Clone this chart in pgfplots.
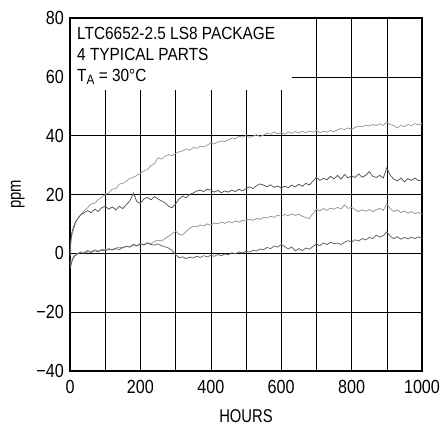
\documentclass[border=0pt]{standalone}
\usepackage{fontspec}
\setmainfont{Liberation Sans}[FakeStretch=0.875]
\newfontfamily\tickfont{Liberation Sans}[FakeStretch=0.85]
\newfontfamily\labelfont{Liberation Sans}[FakeStretch=0.8]
\usepackage{pgfplots}
\pgfplotsset{compat=1.18}
\pgfplotstableread{
t v
0 -1
2 3
5 6
10 8
15 10
20 11.5
30 13
40 14.5
50 15.5
60 16.8
70 17
80 18.3
90 19
100 20
110 20.5
120 21.8
130 22
140 23.5
150 23.8
160 24.5
170 25.5
180 25.8
190 26.5
200 27.2
210 28
220 28.5
230 29.8
240 30.5
250 32.5
260 32
270 33
280 33.5
290 33.2
300 34
310 34.5
320 34.8
330 35.5
340 35
350 36
360 35.7
370 36.4
380 36.2
390 36.8
400 37.5
410 37.2
420 37.8
430 38.2
440 38
450 38.6
460 39.2
470 39
480 39.8
490 39.5
500 40
510 39.4
520 39.8
530 40.3
540 39.7
550 40.2
560 40.8
570 40.5
580 41.2
590 40.7
600 41
610 40.5
620 41.3
630 40.8
640 41.4
650 40.9
660 41.5
670 41
680 41.6
690 41.2
700 41.8
710 41
720 41.5
730 41.2
740 41.8
750 41.3
760 42
770 42.4
780 42.1
790 42.6
800 42.2
810 42.8
820 43.2
830 43
840 43.6
850 43.3
860 43.8
870 43.4
880 44
890 43.5
900 44.6
910 43.8
920 43.4
930 42.6
940 43.5
950 43.1
960 43.8
970 43.4
980 44.1
990 43.7
1000 44.2
}\partA
\pgfplotstableread{
t v
0 0
2 4
5 7
10 9
15 10.5
20 11.5
30 13
40 13.8
50 14.5
60 13.8
70 15
80 14.2
90 15.5
100 16
110 15
120 15.8
130 14.8
140 16
150 15.2
160 16.5
170 17.8
180 20.5
190 17.5
200 17
210 18.5
220 19
230 18.2
240 19.3
250 18.5
260 17.8
270 17.2
280 16
290 15.5
300 16.8
310 18.5
320 19.5
330 18.8
340 20
350 20.5
360 21.2
370 21.5
380 21
390 21.8
400 21.5
410 20.8
420 21.4
430 20.6
440 21.2
450 20.8
460 21.5
470 21
480 21.8
490 21.2
500 22
510 22.6
520 22
530 23
540 23.6
550 23.2
560 22.6
570 23.3
580 22.4
590 22.9
600 22.2
610 22.8
620 22.3
630 23.2
640 22.6
650 23.5
660 22.8
670 23.8
680 23.2
690 24.5
700 25.8
710 24.8
720 25.5
730 25
740 26.2
750 25.3
760 26.5
770 25.2
780 26.8
790 25.6
800 26.3
810 25.8
820 27
830 25.9
840 26.5
850 27.8
860 26.2
870 25.8
880 26.5
890 25.6
900 29
910 26.5
920 25.2
930 24.6
940 25.6
950 24.3
960 25.4
970 24.8
980 25.6
990 24.7
1000 25
}\partB
\pgfplotstableread{
t v
0 -3
2 -4
5 -2.5
10 -1
15 -0.5
20 0
30 0.5
40 0.3
50 1
60 0.6
70 1.2
80 0.8
90 1.4
100 1.2
110 1.6
120 1.3
130 1.8
140 2.1
150 1.8
160 2.4
170 2.2
180 2.8
190 2.5
200 3.2
210 3
220 3.6
230 3.3
240 4
250 4.5
260 4.2
270 5
280 5.8
290 6.6
300 7.5
310 6.5
320 6.2
330 7.5
340 8.5
350 9.2
360 9
370 9.6
380 9.3
390 10
400 9.6
410 10.3
420 10
430 10.6
440 10.2
450 10.8
460 10.4
470 11
480 10.6
490 11.2
500 11
510 11.6
520 11.2
530 11.9
540 11.5
550 12.2
560 12
570 12.6
580 12.2
590 13
600 12.6
610 13.2
620 12.8
630 13.4
640 12.9
650 13.3
660 12.6
670 12.2
680 11.8
690 13.5
700 15
710 14.4
720 15.2
730 14.6
740 15.4
750 15
760 15.6
770 15.1
780 16.4
790 15.3
800 15.6
810 14.8
820 14.2
830 14.8
840 14.3
850 14.9
860 14.2
870 14.8
880 15.3
890 14.6
900 16.8
910 15.2
920 14.2
930 14.8
940 13.8
950 14.4
960 13.6
970 14.2
980 13.5
990 13.9
1000 13.4
}\partC
\pgfplotstableread{
t v
0 -2
2 -4.5
5 -3
10 -1.5
15 -0.8
20 -0.3
30 0.2
40 0
50 0.6
60 0.3
70 0.9
80 0.5
90 1.1
100 0.8
110 1.4
120 1.1
130 1.6
140 1.3
150 2
160 2.4
170 2.1
180 3
190 2.6
200 3.3
210 2.8
220 3.5
230 3
240 2.8
250 3.2
260 2.6
270 2.2
280 1.8
290 1
300 -0.5
310 -1.5
320 -1.2
330 -1.8
340 -1.3
350 -1.6
360 -1
370 -1.4
380 -0.8
390 -1.2
400 -0.7
410 -1
420 -0.4
430 -0.8
440 -0.2
450 -0.5
460 0.2
470 -0.2
480 0.5
490 0.1
500 0.7
510 0.4
520 1
530 0.8
540 1.5
550 1.2
560 2
570 1.6
580 2.5
590 2.1
600 3
610 2.3
620 1.5
630 2.2
640 0.8
650 1.6
660 0.9
670 1.8
680 1.4
690 2.3
700 3.2
710 2.6
720 3.5
730 3
740 3.8
750 3.2
760 3.5
770 3
780 3.8
790 4.3
800 3.9
810 4.6
820 4.2
830 5
840 4.6
850 5.4
860 5
870 6.2
880 5.5
890 6
900 7.3
910 5.8
920 5
930 5.6
940 4.8
950 5.4
960 4.9
970 5.5
980 5
990 5.6
1000 5.2
}\partD
\begin{document}
\begin{tikzpicture}
\useasboundingbox (-70pt,-64pt) rectangle (372pt,371pt);
\begin{axis}[
  scale only axis,
  width=352pt, height=353pt,
  xmin=0, xmax=1000, ymin=-40, ymax=80,
  font=\fontsize{17.6}{21}\selectfont,
  tick label style={font=\tickfont\fontsize{19}{21}\selectfont},
  label style={font=\labelfont\fontsize{18.5}{21}\selectfont},
  xtick={0,200,400,600,800,1000},
  xticklabels={0,200,400,600,800,1000},
  minor xtick={100,300,500,700,900},
  ytick={-40,-20,0,20,40,60,80},
  yticklabels={−40,−20,0,20,40,60,80},
  major tick length=0pt, minor tick length=0pt,
  xmajorgrids, xminorgrids, ymajorgrids,
  major grid style={black, line width=0.6pt},
  minor grid style={black, line width=0.6pt},
  axis line style={black, line width=1.3pt},
  x tick label style={yshift=-5.4pt},
  y tick label style={xshift=-2.7pt},
  xlabel={HOURS},
  xlabel style={at={(axis description cs:0.5,-0.128)}, anchor=center},
  ylabel={ppm},
  ylabel style={at={(axis description cs:-0.148,0.5)}, anchor=center},
]
\fill[white] ([xshift=1pt]axis cs:0,55.5) rectangle ([yshift=-1pt]axis cs:630,80);
\addplot[no marks, line width=0.75pt, color=black!40] table[x=t,y=v] {\partA};
\addplot[no marks, line width=0.75pt, color=black!68] table[x=t,y=v] {\partB};
\addplot[no marks, line width=0.75pt, color=black!42] table[x=t,y=v] {\partC};
\addplot[no marks, line width=0.75pt, color=black!62] table[x=t,y=v] {\partD};
\node[anchor=north west, inner sep=0pt, align=left, font=\fontsize{17.6}{21}\selectfont]
  at ([xshift=7pt,yshift=-8.7pt]axis cs:0,80)
  {LTC6652-2.5 LS8 PACKAGE\\4 TYPICAL PARTS\\T\raisebox{-0.35ex}{\fontsize{13.5}{13.5}\selectfont A} = 30°C};
\node[anchor=north east, inner sep=0pt, font=\labelfont\fontsize{8.5}{9}\selectfont]
  at ([xshift=1pt,yshift=-56pt]axis description cs:1,0) {6652 F12b};
\end{axis}
\end{tikzpicture}
\end{document}
